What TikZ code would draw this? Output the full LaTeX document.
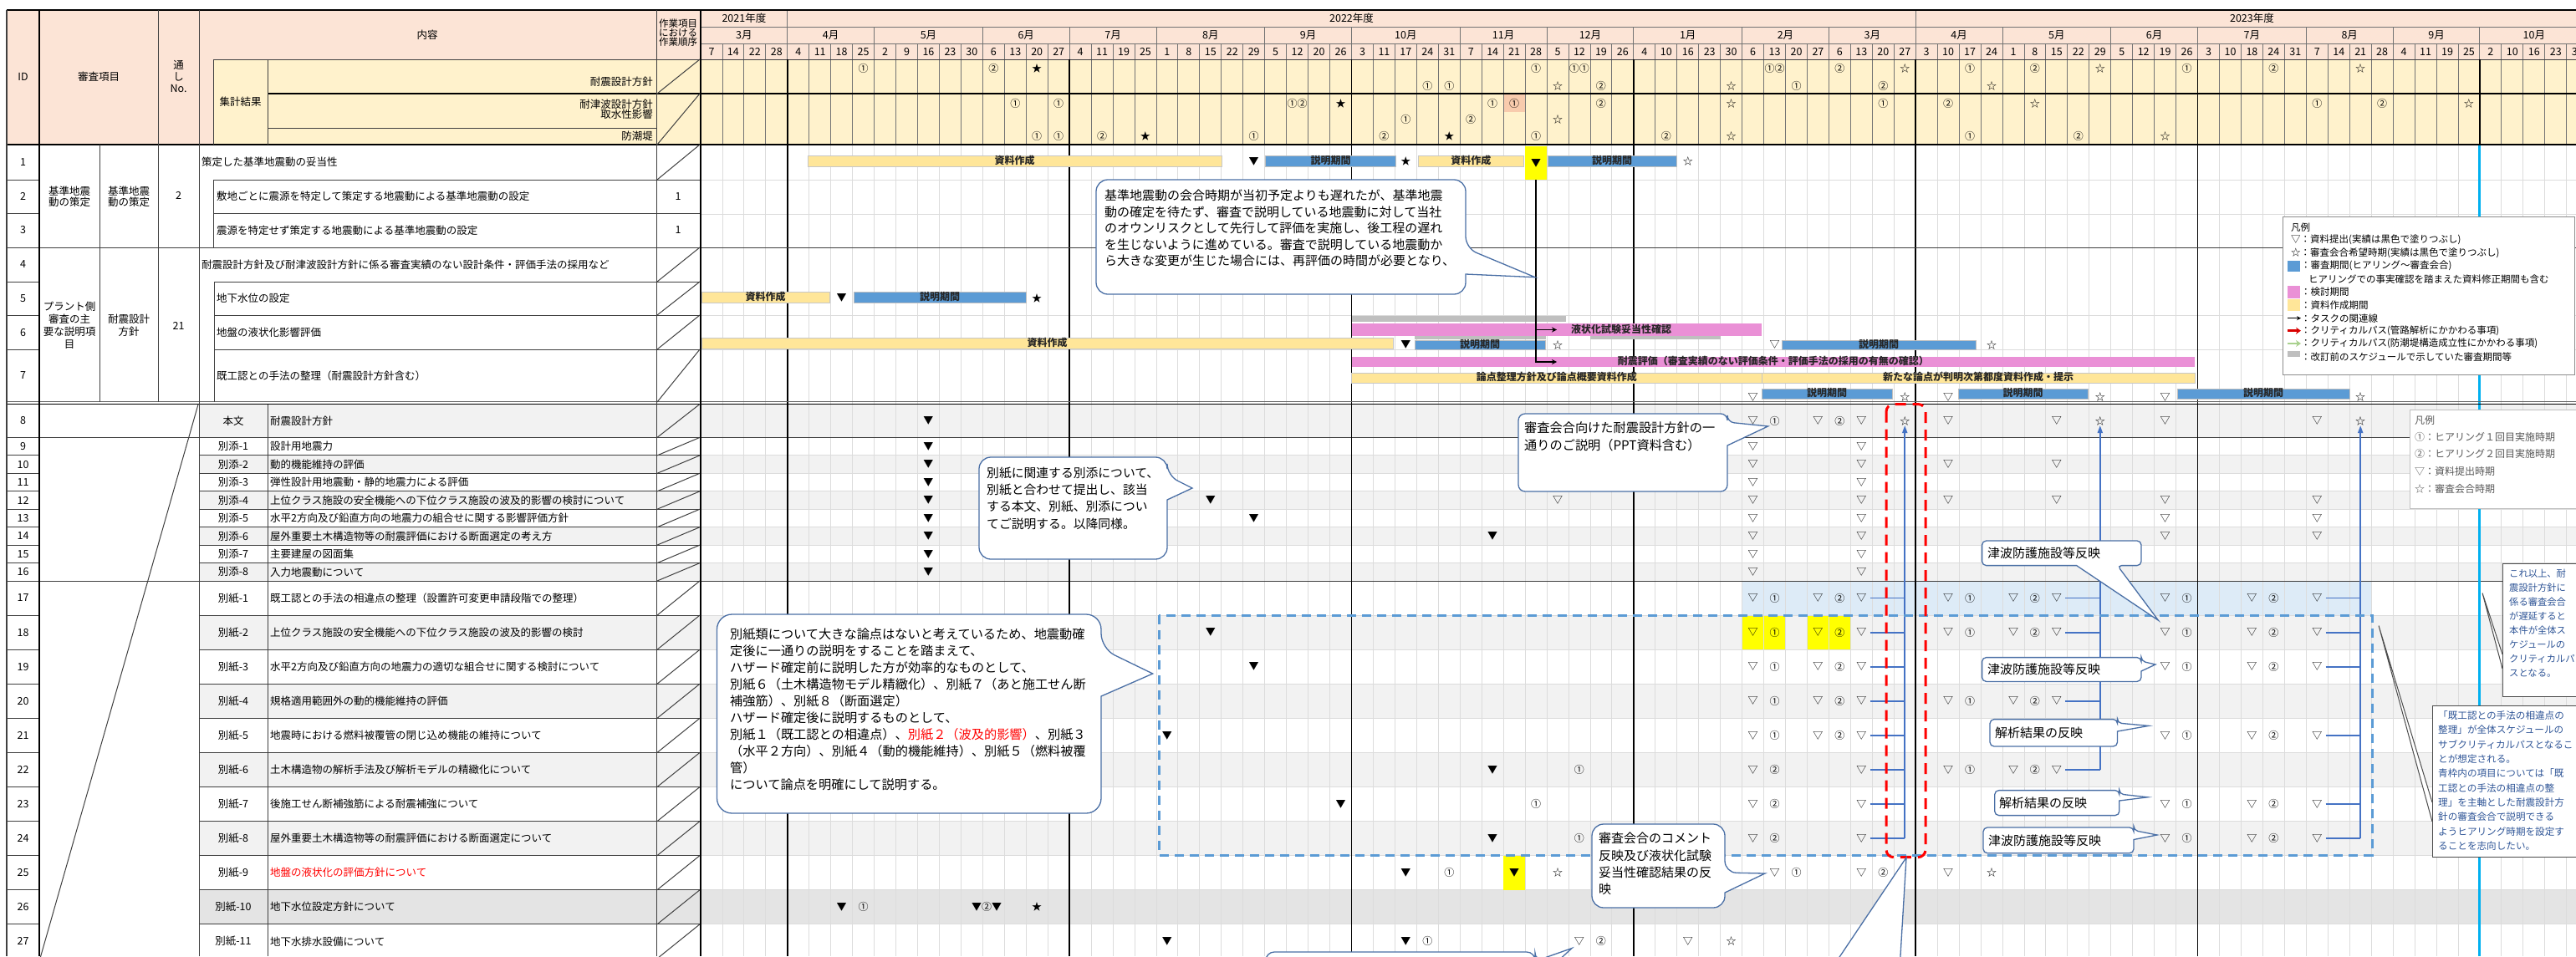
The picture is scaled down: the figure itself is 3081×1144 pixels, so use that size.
\documentclass[tikz,border=0pt]{standalone}
\usepackage{fontspec}
\setmainfont{Noto Sans CJK JP}
\usetikzlibrary{arrows.meta}

\definecolor{hdrpink}{HTML}{FCE4D6}
\definecolor{sumyellow}{HTML}{FFF2CC}
\definecolor{pinkcell}{HTML}{F8CBAD}
\definecolor{baryellow}{HTML}{FFE699}
\definecolor{barblue}{HTML}{5B9BD5}
\definecolor{barpink}{HTML}{EA90D6}
\definecolor{bargray}{HTML}{BFBFBF}
\definecolor{rowgray}{HTML}{F2F2F2}
\definecolor{rowdark}{HTML}{E4E4E4}
\definecolor{rowblue}{HTML}{DDEBF7}
\definecolor{gridgray}{HTML}{DCDCDC}
\definecolor{callblue}{HTML}{4A6FA5}
\definecolor{noteblue}{HTML}{2F5597}
\definecolor{critblue}{HTML}{4472C4}
\definecolor{cyanline}{HTML}{00B0F0}
\definecolor{hiyellow}{HTML}{FFFF00}
\definecolor{critgreen}{HTML}{A9D18E}
\definecolor{dashblue}{HTML}{5B9BD5}

\tikzset{
	glyph/.style={inner sep=0pt, font=\fontsize{12}{12}\selectfont},
	hdrtxt/.style={inner sep=0pt, font=\fontsize{12.5}{12.5}\selectfont},
	tbltxt/.style={inner sep=0pt, font=\fontsize{12.5}{15}\selectfont},
	gbartxt/.style={inner sep=0pt, text height=8.5pt, text depth=1.5pt, text=black!85,
			font=\fontsize{12}{12}\bfseries\selectfont},
	bary/.style={gbartxt, fill=baryellow, draw=black!22, line width=0.8pt},
	barb/.style={gbartxt, fill=barblue, draw=black!25, line width=0.8pt},
	barp/.style={gbartxt, fill=barpink},
	barg/.style={inner sep=0pt, text height=0pt, text depth=0pt, fill=bargray},
	hicell/.style={glyph, fill=hiyellow, minimum width=25.95pt},
	tblline/.style={draw=black!75, line width=1pt},
	boldline/.style={draw=black, line width=2.2pt},
	gridline/.style={draw=gridgray, line width=0.9pt},
	sumline/.style={draw=black!55, line width=0.9pt},
	qline/.style={draw=black, line width=1.6pt},
	link/.style={draw=black, line width=1.4pt, -{Stealth[length=6pt,width=6pt]}},
	crit/.style={draw=critblue, line width=1.8pt},
	callshape/.style={draw=callblue, fill=white, line width=1.3pt, rounded corners=14pt},
	tagshape/.style={draw=callblue, fill=white, line width=1.3pt, rounded corners=5pt},
	calltxt/.style={inner sep=0pt, align=left, anchor=north west},
	tagtxt/.style={inner sep=0pt, anchor=west, font=\fontsize{15}{15}\selectfont},
	notebox/.style={draw=black!70, fill=white, line width=1pt},
	notetxt/.style={inner sep=0pt, align=left, anchor=north west, text=noteblue},
	legtxt/.style={inner sep=0pt, anchor=west, font=\fontsize{11.5}{11.5}\selectfont}
}

\newcommand{\gbar}[7]{\node[#1, minimum width={#4-#3}, minimum height=#6] (#2) at ({(#3+#4)/2},#5) {#7};}
\newcommand{\rowmarks}[3]{\foreach \w/\s in {#3} {\node[glyph] (m#1x\w) at ({wx(\w+0.5)},#2) {\s};}}

\begin{document}
\begin{tikzpicture}[x=1pt, y=-1pt, declare function={wx(\i)=838+25.95*\i;}]
\useasboundingbox (0,0) rectangle (3081,1144);
\clip (0,0) rectangle (3081,1144);
\fill[white] (0,0) rectangle (3081,1144);

% header fills
\fill[hdrpink] (8,12) rectangle (3081,173);
\fill[sumyellow] (255,71) rectangle (3081,173);
\fill[pinkcell] ({wx(37)},113) rectangle ({wx(38)},134);

% row shading
\foreach \t/\b/\c in {483.5/523.4/rowgray, 544.9/566.3/rowgray, 587.8/609.2/rowgray, 630.7/652.1/rowgray,
		673.6/695/rowgray, 736.1/777.2/rowgray, 818.2/859.3/rowgray, 900.4/941.5/rowgray,
		982.6/1023.6/rowgray, 1064.7/1105.8/rowdark}
	\fill[\c] (238,\t) rectangle (3081,\b);
\fill[rowblue] ({wx(48)},695) rectangle ({wx(77)},736.1);
\fill[hiyellow] ({wx(48)},736.1) rectangle ({wx(50)},777.2);
\fill[hiyellow] ({wx(51)},736.1) rectangle ({wx(53)},777.2);

% week grid
\foreach \i in {1,...,86} \draw[gridline] ({wx(\i)},173) -- ({wx(\i)},1144);
\foreach \y in {215,256,377,418} \draw[gridline] (838,\y) -- (3081,\y);
\foreach \y in {544.9,566.3,587.8,609.2,630.7,652.1,673.6,736.1,777.2,818.2,859.3,900.4,941.5,982.6,1023.6,1064.7,1105.8}
	{\draw[gridline] (838,\y) -- (3081,\y);
	\draw[tblline] (8,\y) -- (47,\y);
	\draw[tblline] (238,\y) -- (838,\y);}
\draw[tblline] (8,523.4) -- (3081,523.4);
\draw[tblline] (8,695) -- (3081,695);

% calendar header
\foreach \a/\b/\t in {0/4/2021年度, 4/56/2022年度, 56/87/2023年度}
	{\node[hdrtxt] (yr\a) at ({wx((\a+\b)/2)},22) {\t};
	\draw[sumline] ({wx(\a)},12) -- ({wx(\a)},32);}
\foreach \a/\n/\t in {0/4/3月, 4/4/4月, 8/5/5月, 13/4/6月, 17/4/7月, 21/5/8月, 26/4/9月, 30/5/10月,
		35/4/11月, 39/4/12月, 43/5/1月, 48/4/2月, 52/4/3月, 56/4/4月, 60/5/5月, 65/4/6月,
		69/5/7月, 74/4/8月, 78/4/9月, 82/5/10月}
	{\node[hdrtxt] (mo\a) at ({wx(\a+\n/2)},42) {\t};
	\draw[sumline] ({wx(\a)},32) -- ({wx(\a)},52);}
\foreach \d [count=\i from 0] in {7,14,22,28,4,11,18,25,2,9,16,23,30,6,13,20,27,4,11,19,25,1,8,15,22,29,
		5,12,20,26,3,11,17,24,31,7,14,21,28,5,12,19,26,4,10,16,23,30,6,13,20,27,6,13,20,27,
		3,10,17,24,1,8,15,22,29,5,12,19,26,3,10,18,24,31,7,14,21,28,4,11,19,25,2,10,16,23,30}
	\node[hdrtxt] (wk\i) at ({wx(\i+0.5)},62) {\d};
\draw[sumline] (838,32) -- (3081,32);
\draw[sumline] (838,52) -- (3081,52);
\foreach \i in {1,...,86} \draw[sumline] ({wx(\i)},52) -- ({wx(\i)},173);
\draw[tblline] (255,71) -- (3081,71);
\draw[boldline] (320,112) -- (3081,112);
\draw[tblline] (320,153) -- (785,153);

% quarter lines
\foreach \i in {4,17,30,43,56,69} \draw[qline] ({wx(\i)},71) -- ({wx(\i)},1144);
\draw[qline] ({wx(82)},71) -- ({wx(82)},173);
\draw[draw=cyanline, line width=3pt] ({wx(82)},173) -- ({wx(82)},1144);

% table frame
\draw[boldline] (8,12) -- (3081,12);
\draw[boldline] (8,173) -- (3081,173);
\draw[tblline] (8,296) -- (3081,296);
\draw[draw=black!60, line width=1pt] (8,480.7) -- (3081,480.7);
\draw[draw=black, line width=1.6pt] (8,483.6) -- (3081,483.6);
\foreach \y in {215,255,337,377,418} \draw[tblline] (8,\y) -- (47,\y);
\foreach \y in {215,255} \draw[tblline] (255,\y) -- (838,\y);
\foreach \y in {337,377,418} \draw[tblline] (256,\y) -- (838,\y);
\draw[tblline] (255,215) -- (255,296);
\draw[tblline] (256,337) -- (256,481);
\draw[tblline, line width=1.5pt] (8,12) -- (8,1144);
\draw[boldline] (47,12) -- (47,1144);
\draw[tblline] (119,173) -- (119,481);
\draw[tblline] (189,12) -- (189,481);
\draw[tblline] (238,12) -- (238,1144);
\draw[tblline] (255,71) -- (255,173);
\draw[tblline] (320,71) -- (320,173);
\draw[tblline] (320,483.5) -- (320,1144);
\draw[tblline] (785,12) -- (785,1144);
\draw[boldline] (838,12) -- (838,1144);
\draw[tblline] (237,484) -- (47,1150);
\foreach \t/\b in {71/112, 112/173, 173/215, 296/337, 337/377, 377/418, 418/481, 483.5/523.4, 523.4/544.9,
		544.9/566.3, 566.3/587.8, 587.8/609.2, 609.2/630.7, 630.7/652.1, 652.1/673.6, 673.6/695, 695/736.1,
		736.1/777.2, 777.2/818.2, 818.2/859.3, 859.3/900.4, 900.4/941.5, 941.5/982.6, 982.6/1023.6,
		1023.6/1064.7, 1064.7/1105.8, 1105.8/1146.9}
	\draw[tblline] (786,\b) -- (837,\t);

% header texts
\node[hdrtxt] (hID) at (27.5,92) {ID};
\node[hdrtxt] (hItem) at (118,92) {審査項目};
\node[hdrtxt, align=center, font=\fontsize{12.5}{14}\selectfont] (hNo) at (213.5,91) {通\\し\\No.};
\node[hdrtxt] (hCont) at (511,41.5) {内容};
\node[hdrtxt] (hSum) at (287.5,122) {集計結果};
\node[hdrtxt, anchor=east] (hS1) at (781,98) {耐震設計方針};
\node[hdrtxt, anchor=east, align=right, font=\fontsize{12.5}{12}\selectfont] (hS2) at (781,131) {耐津波設計方針\\取水性影響};
\node[hdrtxt, anchor=east] (hS3) at (781,163) {防潮堤};
\node[hdrtxt, align=center, font=\fontsize{11.5}{11.3}\selectfont] (hOrd) at (811,39) {作業項目\\における\\作業順序};

% summary marks
\rowmarks{hA}{82}{7/①, 13/②, 15/★, 38/①, 40/①①, 49/①②, 52/②, 55/☆, 58/①, 61/②, 64/☆, 68/①, 72/②, 76/☆}
\rowmarks{hB}{103}{33/①, 34/①, 39/☆, 41/②, 47/☆, 50/①, 54/②, 59/☆}
\rowmarks{hC}{124}{14/①, 16/①, 27/①②, 29/★, 36/①, 37/①, 41/②, 47/☆, 54/①, 57/②, 61/☆, 74/①, 77/②, 81/☆}
\rowmarks{hD}{143}{32/①, 35/②, 39/☆}
\rowmarks{hE}{163}{15/①, 16/①, 18/②, 20/★, 25/①, 31/②, 34/★, 38/①, 44/②, 47/☆, 58/①, 63/②, 67/☆}

% rows 1-7
\foreach \n/\y in {1/194, 2/235, 3/275.5, 4/316.5, 5/357, 6/398, 7/449.5}
	\node[tbltxt] (id\n) at (27.5,\y) {\n};
\node[tbltxt, align=center, font=\fontsize{12.5}{13.5}\selectfont] (g1a) at (83,235) {基準地震\\動の策定};
\node[tbltxt, align=center, font=\fontsize{12.5}{13.5}\selectfont] (g1b) at (154,235) {基準地震\\動の策定};
\node[tbltxt] (g1c) at (213.5,234) {2};
\node[tbltxt, align=center] (g2a) at (83,389) {プラント側\\審査の主\\要な説明項\\目};
\node[tbltxt, align=center] (g2b) at (154,389) {耐震設計\\方針};
\node[tbltxt] (g2c) at (213.5,390) {21};
\node[tbltxt, anchor=west] (t1) at (241,194) {策定した基準地震動の妥当性};
\node[tbltxt, anchor=west] (t2) at (259,235) {敷地ごとに震源を特定して策定する地震動による基準地震動の設定};
\node[tbltxt, anchor=west] (t3) at (259,275.5) {震源を特定せず策定する地震動による基準地震動の設定};
\node[tbltxt, anchor=west] (t4) at (241,316.5) {耐震設計方針及び耐津波設計方針に係る審査実績のない設計条件・評価手法の採用など};
\node[tbltxt, anchor=west] (t5) at (259,357) {地下水位の設定};
\node[tbltxt, anchor=west] (t6) at (259,398) {地盤の液状化影響評価};
\node[tbltxt, anchor=west] (t7) at (259,449.5) {既工認との手法の整理（耐震設計方針含む）};
\node[tbltxt] (ord2) at (811,235) {1};
\node[tbltxt] (ord3) at (811,275.5) {1};

% rows 8-27
\foreach \n/\y/\k/\t in {8/503.5/本文/耐震設計方針, 9/534.1/別添-1/設計用地震力, 10/555.6/別添-2/動的機能維持の評価,
		11/577.1/別添-3/弾性設計用地震動・静的地震力による評価,
		12/598.5/別添-4/上位クラス施設の安全機能への下位クラス施設の波及的影響の検討について,
		13/620/別添-5/水平2方向及び鉛直方向の地震力の組合せに関する影響評価方針,
		14/641.4/別添-6/屋外重要土木構造物等の耐震評価における断面選定の考え方,
		15/662.9/別添-7/主要建屋の図面集, 16/684.3/別添-8/入力地震動について,
		17/715.5/別紙-1/既工認との手法の相違点の整理（設置許可変更申請段階での整理）,
		18/756.6/別紙-2/上位クラス施設の安全機能への下位クラス施設の波及的影響の検討,
		19/797.7/別紙-3/水平2方向及び鉛直方向の地震力の適切な組合せに関する検討について,
		20/838.8/別紙-4/規格適用範囲外の動的機能維持の評価,
		21/879.9/別紙-5/地震時における燃料被覆管の閉じ込め機能の維持について,
		22/920.9/別紙-6/土木構造物の解析手法及び解析モデルの精緻化について,
		23/962/別紙-7/後施工せん断補強筋による耐震補強について,
		24/1003.1/別紙-8/屋外重要土木構造物等の耐震評価における断面選定について,
		25/1044.2/別紙-9/{\textcolor{red}{地盤の液状化の評価方針について}},
		26/1085.2/別紙-10/地下水位設定方針について, 27/1126.3/別紙-11/地下水排水設備について}
	{\node[tbltxt] (id\n) at (27.5,\y) {\n};
	\node[tbltxt] (k\n) at (279,\y) {\k};
	\node[tbltxt, anchor=west] (t\n) at (323,\y) {\t};}

% bars rows 1-7
\gbar{bary}{b1a}{966}{1461}{193}{12.7}{資料作成}
\gbar{barb}{b1b}{1513.7}{1669.5}{193}{12.7}{説明期間}
\gbar{bary}{b1c}{1696}{1822.5}{193}{12.7}{資料作成}
\gbar{barb}{b1d}{1851}{2005.4}{193}{12.7}{説明期間}
\node[hicell, minimum height=40] (hl1) at ({wx(38.5)},195) {▼};
\rowmarks{1}{193}{25/▼, 32/★, 45/☆}
\gbar{bary}{b5a}{839}{992}{355.5}{13}{資料作成}
\gbar{barb}{b5b}{1021}{1227}{355.5}{13}{説明期間}
\rowmarks{5}{356.5}{6/▼, 15/★}
\gbar{barg}{b6g1}{1616.6}{1873}{381.5}{7}{}
\gbar{barp}{b6p}{1616.6}{2107}{394.5}{15}{}
\node[gbartxt] (l6p) at (1939,394.5) {液状化試験妥当性確認};
\gbar{barg}{b6g2}{1692}{1849}{404}{4}{}
\gbar{barg}{b6g3}{1902}{2057.6}{404}{4}{}
\gbar{bary}{b6a}{839}{1666}{410.5}{13}{資料作成}
\gbar{barb}{b6b}{1692}{1848}{412.5}{11}{説明期間}
\gbar{barb}{b6c}{2131}{2363}{412.5}{11}{説明期間}
\rowmarks{6}{412.5}{32/▼, 39/☆, 49/▽, 59/☆}
\gbar{barp}{b7p}{1616.6}{2625}{433}{12}{耐震評価（審査実績のない評価条件・評価手法の採用の有無の確認）}
\gbar{bary}{b7a}{1616.6}{2107}{452}{12}{論点整理方針及び論点概要資料作成}
\gbar{bary}{b7b}{2107}{2625}{452}{12}{新たな論点が判明次第都度資料作成・提示}
\gbar{barb}{b7c}{2107}{2263}{471}{12}{説明期間}
\gbar{barb}{b7d}{2342}{2497}{471}{12}{説明期間}
\gbar{barb}{b7e}{2604}{2810}{471}{12}{説明期間}
\rowmarks{7}{475}{48/▽, 55/☆, 57/▽, 64/☆, 67/▽, 76/☆}

% task links
\coordinate (lk6) at (1862,394.5);
\coordinate (lk7) at (1862,433);
\draw[link] (hl1.south) |- (lk6);
\draw[link] (hl1.south) |- (lk7);

% marks rows 8-27
\rowmarks{8}{503.5}{10/▼, 48/▽, 49/①, 51/▽, 52/②, 53/▽, 55/☆, 57/▽, 62/▽, 64/☆, 67/▽, 74/▽, 76/☆}
\rowmarks{9}{534.1}{10/▼, 48/▽, 53/▽}
\rowmarks{10}{555.6}{10/▼, 48/▽, 53/▽, 57/▽, 62/▽}
\rowmarks{11}{577.1}{10/▼, 48/▽, 53/▽}
\rowmarks{12}{598.5}{10/▼, 23/▼, 39/▽, 48/▽, 53/▽, 57/▽, 62/▽, 67/▽, 74/▽}
\rowmarks{13}{620}{10/▼, 25/▼, 48/▽, 53/▽, 67/▽, 74/▽}
\rowmarks{14}{641.4}{10/▼, 36/▼, 48/▽, 53/▽, 67/▽, 74/▽}
\rowmarks{15}{662.9}{10/▼, 48/▽, 53/▽}
\rowmarks{16}{684.3}{10/▼, 48/▽, 53/▽}
\rowmarks{17}{715.5}{48/▽, 49/①, 51/▽, 52/②, 53/▽, 57/▽, 58/①, 60/▽, 61/②, 62/▽, 67/▽, 68/①, 71/▽, 72/②, 74/▽}
\rowmarks{18}{756.6}{23/▼, 48/▽, 49/①, 51/▽, 52/②, 53/▽, 57/▽, 58/①, 60/▽, 61/②, 62/▽, 67/▽, 68/①, 71/▽, 72/②, 74/▽}
\rowmarks{19}{797.7}{25/▼, 48/▽, 49/①, 51/▽, 52/②, 53/▽, 67/▽, 68/①, 71/▽, 72/②, 74/▽}
\rowmarks{20}{838.8}{48/▽, 49/①, 51/▽, 52/②, 53/▽, 57/▽, 58/①, 60/▽, 61/②, 62/▽}
\rowmarks{21}{879.9}{21/▼, 48/▽, 49/①, 51/▽, 52/②, 53/▽, 67/▽, 68/①, 71/▽, 72/②, 74/▽}
\rowmarks{22}{920.9}{36/▼, 40/①, 48/▽, 49/②, 53/▽, 57/▽, 58/①, 60/▽, 61/②, 62/▽}
\rowmarks{23}{962}{29/▼, 38/①, 48/▽, 49/②, 53/▽, 67/▽, 68/①, 71/▽, 72/②, 74/▽}
\rowmarks{24}{1003.1}{36/▼, 40/①, 48/▽, 49/②, 53/▽, 67/▽, 68/①, 71/▽, 72/②, 74/▽}
\node[hicell, minimum height=41] (hl25) at ({wx(37.5)},1044.2) {▼};
\rowmarks{25}{1044.2}{32/▼, 34/①, 39/☆, 49/▽, 50/①, 53/▽, 54/②, 57/▽, 59/☆}
\rowmarks{26}{1085.2}{6/▼, 7/①, 15/★}
\node[glyph] (m26x13) at (1180,1085.2) {▼②▼};
\rowmarks{27}{1126.3}{21/▼, 32/▼, 33/①, 40/▽, 41/②, 45/▽, 47/☆}

% critical path lines
\foreach \rw in {17,...,24} \draw[crit, shorten <=4pt] (m\rw x53.east) -- (m\rw x53.east -| m8x55);
\foreach \rw in {17,18,20,22} \draw[crit, shorten <=4pt] (m\rw x62.east) -- (m\rw x62.east -| m8x64);
\foreach \rw in {17,18,19,21,23,24} \draw[crit, shorten <=4pt] (m\rw x74.east) -- (m\rw x74.east -| m8x76);
\draw[crit, -{Triangle[length=9pt,width=6pt]}] (m24x53.east -| m8x55) -- (m8x55.south);
\draw[crit, -{Triangle[length=9pt,width=6pt]}] (m22x62.east -| m8x64) -- (m8x64.south);
\draw[crit, -{Triangle[length=9pt,width=6pt]}] (m24x74.east -| m8x76) -- (m8x76.south);

% framed groups
\draw[draw=dashblue, line width=3pt, dash pattern=on 11pt off 7pt] (1386,736) rectangle (2837,1023);
\draw[draw=red, line width=3pt, dash pattern=on 13pt off 8pt, rounded corners=9pt] (2256,483.5) rectangle (2303,1025.7);

% callouts
\draw[callshape] (1311,283) -- (1311,215) -- (1753,215) -- (1753,297) [sharp corners] -- (1836,331.7)
	-- (1753,328) [rounded corners=14pt] -- (1753,352) -- (1311,352) -- cycle;
\node[calltxt, font=\fontsize{15}{19.5}\selectfont] (cl1) at (1321,227)
	{基準地震動の会合時期が当初予定よりも遅れたが、基準地震\\動の確定を待たず、審査で説明している地震動に対して当社\\のオウンリスクとして先行して評価を実施し、後工程の遅れ\\を生じないように進めている。審査で説明している地震動か\\ら大きな変更が生じた場合には、再評価の時間が必要となり、};
\draw[callshape] (1171,608) -- (1171,547) -- (1396,547) -- (1396,569) [sharp corners] -- (1426,584)
	-- (1396,598) [rounded corners=14pt] -- (1396,669) -- (1171,669) -- cycle;
\node[calltxt, font=\fontsize{14.8}{20.3}\selectfont] (cl2) at (1180,558.6)
	{別紙に関連する別添について、\\別紙と合わせて提出し、該当\\する本文、別紙、別添につい\\てご説明する。以降同様。};
\draw[callshape, rounded corners=18pt] (857.5,854) -- (857.5,735) -- (1317,735) -- (1317,776) [sharp corners]
	-- (1378.7,806) -- (1317,833) [rounded corners=18pt] -- (1317,973) -- (857.5,973) -- cycle;
\node[calltxt, font=\fontsize{15.2}{19.9}\selectfont] (cl3) at (873,752)
	{別紙類について大きな論点はないと考えているため、地震動確\\定後に一通りの説明をすることを踏まえて、\\ハザード確定前に説明した方が効率的なものとして、\\別紙６（土木構造物モデル精緻化）、別紙７（あと施工せん断\\補強筋）、別紙８（断面選定）\\ハザード確定後に説明するものとして、\\別紙１（既工認との相違点）、\textcolor{red}{別紙２（波及的影響）}、別紙３\\（水平２方向）、別紙４（動的機能維持）、別紙５（燃料被覆\\管）\\について論点を明確にして説明する。};
\draw[callshape, rounded corners=8pt] (1816,541) -- (1816,495) -- (2066,495) -- (2066,505) [sharp corners]
	-- (2114.6,510) -- (2066,533) [rounded corners=8pt] -- (2066,588) -- (1816,588) -- cycle;
\node[calltxt, font=\fontsize{15.2}{20.5}\selectfont] (cl4) at (1823,504.7)
	{審査会合向けた耐震設計方針の一\\通りのご説明（PPT資料含む）};
\draw[callshape] (1904,1036) -- (1904,986) -- (2063,986) -- (2063,1044) [sharp corners] -- (2111,1045)
	-- (2063,1068) [rounded corners=14pt] -- (2063,1086) -- (1904,1086) -- cycle;
\node[calltxt, font=\fontsize{15}{20.4}\selectfont] (cl5) at (1912,995.8)
	{審査会合のコメント\\反映及び液状化試験\\妥当性確認結果の反\\映};
\draw[callshape, rounded corners=10pt] (1514,1200) -- (1514,1139) -- (1836,1139) -- (1836,1150) [sharp corners]
	-- (1880,1134.5) -- (1836,1175) [rounded corners=10pt] -- (1836,1250) -- (1514,1250) -- cycle;
\draw[callshape] (2000,1250) -- (2000,1160) -- (2190,1160) [sharp corners] -- (2280,1026)
	-- (2272,1160) [rounded corners=14pt] -- (2400,1160) -- (2400,1300) -- (2000,1300) -- cycle;

% tags
\draw[tagshape] (2370.6,662) -- (2370.6,647) -- (2561,647) -- (2561,676.6) -- (2532.5,676.6) [sharp corners]
	-- (2581.5,742.3) -- (2483.6,676.6) [rounded corners=5pt] -- (2370.6,676.6) -- cycle;
\node[tagtxt] (tg7) at (2377,662) {津波防護施設等反映};
\draw[tagshape] (2370.6,801) -- (2370.6,786.6) -- (2561,786.6) -- (2561,791) [sharp corners] -- (2578,795)
	-- (2561,803) [rounded corners=5pt] -- (2561,815.4) -- (2370.6,815.4) -- cycle;
\node[tagtxt] (tg8) at (2377,801) {津波防護施設等反映};
\draw[tagshape] (2380,877) -- (2380,860.6) -- (2532.5,860.6) -- (2532.5,865) [sharp corners] -- (2570,868.4)
	-- (2532.5,875) [rounded corners=5pt] -- (2532.5,893) -- (2380,893) -- cycle;
\node[tagtxt] (tg9) at (2386,877) {解析結果の反映};
\draw[tagshape] (2385.7,960.6) -- (2385.7,945.6) -- (2534.8,945.6) -- (2534.8,950) [sharp corners] -- (2568.7,953.8)
	-- (2534.8,958) [rounded corners=5pt] -- (2534.8,975.6) -- (2385.7,975.6) -- cycle;
\node[tagtxt] (tg10) at (2391,960.6) {解析結果の反映};
\draw[tagshape] (2372,1005.4) -- (2372,990) -- (2552,990) -- (2552,993.5) [sharp corners] -- (2580,999)
	-- (2552,1004.5) [rounded corners=5pt] -- (2552,1020.7) -- (2372,1020.7) -- cycle;
\node[tagtxt] (tg11) at (2378,1005.4) {津波防護施設等反映};

% notes on the right
\filldraw[notebox] (2993,800) -- (2969,709.5) -- (2993,783);
\filldraw[notebox] (2993,674.5) rectangle (3090,833.5);
\node[notetxt, font=\fontsize{11.3}{17}\selectfont] (nt12) at (3001,681)
	{これ以上、耐\\震設計方針に\\係る審査会合\\が遅延すると\\本件が全体ス\\ケジュールの\\クリティカルパ\\スとなる。};
\filldraw[notebox] (2909,983) -- (2845,748.5) -- (2909,960);
\filldraw[notebox] (2909,844) rectangle (3090,1025.7);
\node[notetxt, font=\fontsize{11.6}{17.3}\selectfont] (nt13) at (2916,850.6)
	{「既工認との手法の相違点の\\整理」が全体スケジュールの\\サブクリティカルパスとなるこ\\とが想定される。\\青枠内の項目については「既\\工認との手法の相違点の整\\理」を主軸とした耐震設計方\\針の審査会合で説明できる\\ようヒアリング時期を設定す\\ることを志向したい。};

% legend 1
\filldraw[draw=black!45, fill=white, line width=1pt] (2730,259) rectangle (3079,448);
\node[legtxt] (lg0) at (2740,271.7) {凡例};
\node[legtxt] (lg1) at (2740,287) {▽：資料提出(実績は黒色で塗りつぶし)};
\node[legtxt] (lg2) at (2740,302.7) {☆：審査会合希望時期(実績は黒色で塗りつぶし)};
\fill[barblue] (2736,311.7) rectangle (2751,325);
\node[legtxt] (lg3) at (2752,318) {：審査期間(ヒアリング～審査会合)};
\node[legtxt] (lg3b) at (2761,334) {ヒアリングでの事実確認を踏まえた資料修正期間も含む};
\fill[barpink] (2736,342) rectangle (2751,357);
\node[legtxt] (lg4) at (2752,349) {：検討期間};
\fill[baryellow] (2736,358) rectangle (2751,372);
\node[legtxt] (lg5) at (2752,365) {：資料作成期間};
\coordinate (la1) at (2736,380.7); \coordinate (la2) at (2752,380.7);
\draw[link, line width=1.2pt, -{Stealth[length=5pt,width=5pt]}] (la1) -- (la2);
\node[legtxt] (lg6) at (2752,380.7) {：タスクの関連線};
\coordinate (lb1) at (2736,395.7); \coordinate (lb2) at (2752,395.7);
\draw[draw=red!85!black, line width=2.6pt, -{Stealth[length=6pt,width=8pt]}] (lb1) -- (lb2);
\node[legtxt] (lg7) at (2752,395.7) {：クリティカルパス(管路解析にかかわる事項)};
\coordinate (lc1) at (2736,411); \coordinate (lc2) at (2752,411);
\draw[draw=critgreen, line width=2.6pt, -{Stealth[length=6pt,width=8pt]}] (lc1) -- (lc2);
\node[legtxt] (lg8) at (2752,411) {：クリティカルパス(防潮堤構造成立性にかかわる事項)};
\fill[bargray] (2736,420) rectangle (2751,427);
\node[legtxt] (lg9) at (2752,426.7) {：改訂前のスケジュールで示していた審査期間等};

% legend 2
\filldraw[draw=black!25, fill=white, line width=1pt] (2882.7,490) rectangle (3090,608.8);
\node[legtxt, text=black!65, font=\fontsize{12}{12}\selectfont] (lh0) at (2888,503.3) {凡例};
\node[legtxt, text=black!65, font=\fontsize{12}{12}\selectfont] (lh1) at (2888,523.4) {①：ヒアリング１回目実施時期};
\node[legtxt, text=black!65, font=\fontsize{12}{12}\selectfont] (lh2) at (2888,543) {②：ヒアリング２回目実施時期};
\node[legtxt, text=black!65, font=\fontsize{12}{12}\selectfont] (lh3) at (2888,563.7) {▽：資料提出時期};
\node[legtxt, text=black!65, font=\fontsize{12}{12}\selectfont] (lh4) at (2888,585) {☆：審査会合時期};

\end{tikzpicture}
\end{document}
